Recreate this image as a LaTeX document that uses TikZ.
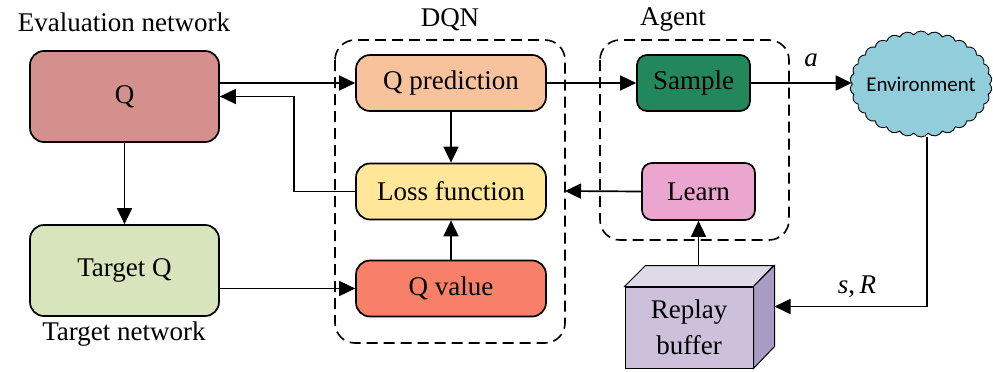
\documentclass[tikz,border=0pt]{standalone}
\usepackage{fontspec}
\setmainfont{Liberation Serif}
\newfontfamily\envfont{Carlito}
\usetikzlibrary{shapes.symbols,arrows.meta,calc}
\definecolor{cQ}{HTML}{D4908D}
\definecolor{cTQ}{HTML}{D8E4BC}
\definecolor{cQP}{HTML}{F8C29C}
\definecolor{cLF}{HTML}{FFE699}
\definecolor{cQV}{HTML}{F88068}
\definecolor{cSA}{HTML}{22875A}
\definecolor{cLE}{HTML}{EAA6CE}
\definecolor{cRBf}{HTML}{CCC0DA}
\definecolor{cRBt}{HTML}{DFDAEA}
\definecolor{cRBs}{HTML}{A99CC4}
\definecolor{cEnv}{HTML}{92CDDC}
\begin{document}
\begin{tikzpicture}[x=1pt,y=-1pt,
  txt/.style={font=\fontsize{27}{33}\selectfont},
  box/.style={draw,line width=1.7pt,rounded corners=14pt,txt,inner sep=0pt},
  sbox/.style={box,rounded corners=10pt},
  group/.style={draw,line width=1.6pt,rounded corners=20pt,dash pattern=on 11pt off 6pt},
  arr/.style={line width=1.7pt,-{Triangle[length=16pt,width=15pt]}},
  lbl/.style={txt,inner sep=0pt}]
\useasboundingbox (0,0) rectangle (993,372);
% group frames
\draw[group] (335,40) rectangle (565,343);
\draw[group] (600,40) rectangle (789,240);
\coordinate (dqnE) at (565,191);
\node[lbl] (tdqn) at (450,20) {DQN};
\node[lbl] (tagent) at (673,20) {Agent};
% left nodes
\node[box,fill=cQ,minimum width=189pt,minimum height=91pt] (Q) at (124.5,96.5) {Q};
\node[box,fill=cTQ,minimum width=189pt,minimum height=91pt] (TQ) at (124.5,270.5) {Target Q};
\node[lbl] (teval) at (124,22) {Evaluation network};
\node[lbl] (ttarget) at (124,334) {Target network};
% DQN nodes
\node[box,fill=cQP,minimum width=190pt,minimum height=56pt] (QP) at (451,83) {Q prediction};
\node[box,fill=cLF,minimum width=190pt,minimum height=56pt] (LF) at (451,191.5) {Loss function};
\node[box,fill=cQV,minimum width=190pt,minimum height=56pt] (QV) at (451,288.5) {Q value};
% Agent nodes
\node[sbox,fill=cSA,minimum width=113pt,minimum height=56pt] (SA) at (693.5,83) {Sample};
\node[sbox,fill=cLE,minimum width=113pt,minimum height=57pt] (LE) at (698.5,191.5) {Learn};
% environment
\node[cloud,cloud puffs=30,cloud puff arc=110,draw,line width=0.9pt,fill=cEnv,minimum width=142pt,minimum height=106pt,inner sep=0pt] (env) at (921,84) {};
\node[inner sep=0pt,font=\envfont\fontsize{21}{24}\selectfont] (tenv) at (env.center) {Environment};
% replay buffer
\node[draw,line width=1pt,fill=cRBf,minimum width=128pt,minimum height=81pt,inner sep=0pt,align=center,font=\fontsize{27}{36}\selectfont] (RB) at (689,327.5) {Replay\\buffer};
\draw[line width=1pt,fill=cRBt] (RB.north west) -- ++(21,-21) -- ++(128,0) -- (RB.north east) -- cycle;
\draw[line width=1pt,fill=cRBs] (RB.north east) -- ++(21,-21) -- ++(0,81) -- (RB.south east) -- cycle;
\coordinate (RBtop) at ($(RB.north)+(9,-21)$);
\coordinate (RBside) at ($(RB.east)+(21,-21)$);
% connectors
\draw[arr] (Q.east |- QP.west) -- (QP.west);
\draw[arr] (Q.south) -- (TQ.north);
\draw[arr] (TQ.east |- QV.west) -- (QV.west);
\draw[arr] (LF.west) -- ++(-61,0) |- (Q.east);
\draw[arr] (QP.south) -- (LF.north);
\draw[arr] (QV.north) -- (LF.south);
\draw[arr] (LE.west) -- (dqnE);
\draw[arr] (QP.east) -- (SA.west);
\draw[arr] (SA.east) -- (env.west |- SA.east);
\draw[arr] ([xshift=6pt]env.south) |- (RBside);
\draw[arr] (LE.south |- RBtop) -- (LE.south);
\node[lbl,font=\fontsize{27}{33}\selectfont\itshape] (ta) at (811,60) {a};
\node[lbl,font=\fontsize{27}{33}\selectfont\itshape] (tsr) at (857,287) {s\upshape,\itshape\,R};
\end{tikzpicture}
\end{document}
